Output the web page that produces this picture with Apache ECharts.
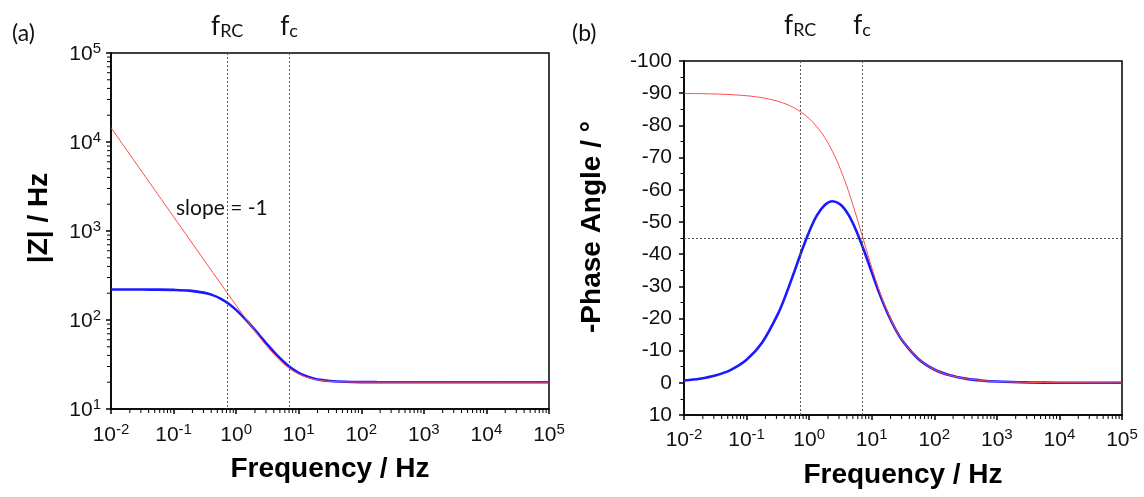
<!DOCTYPE html>
<html>
<head>
<meta charset="utf-8">
<script src="https://cdn.jsdelivr.net/npm/echarts@6/dist/echarts.min.js"></script>
<style>
  html, body { margin: 0; padding: 0; background: #fff; }
  #chart { width: 1144px; height: 497px; }
</style>
</head>
<body>
<div id="chart"></div>
<script>
// Frequency sweep (Hz), denser around the RC transition
const freq = [0.01, 0.0178, 0.0316, 0.0562, 0.1, 0.178, 0.316, 0.422, 0.562, 0.75,
  1, 1.33, 1.78, 2.37, 3.16, 4.22, 5.62, 7.5, 10, 13.3, 17.8, 23.7, 31.6, 56.2,
  100, 178, 316, 562, 1000, 3160, 10000, 31600, 100000];

// |Z| of the R-(R||C) circuit (blue) and of the series R-C circuit (red)
const magRRC = [220.0, 219.9, 219.8, 219.3, 217.9, 213.7, 201.8, 190.3, 174.1, 153.4,
  130.0, 106.4, 85.0, 67.0, 52.8, 42.1, 34.4, 29.0, 25.5, 23.3, 21.9, 21.1, 20.6, 20.2,
  20.06, 20.02, 20.01, 20.0, 20.0, 20.0, 20.0, 20.0, 20.0];
const magRC = [14472, 8136, 4576, 2574, 1447, 814, 458, 343.5, 258.1, 194.0,
  146.1, 110.3, 83.8, 64.2, 49.9, 39.7, 32.6, 27.8, 24.7, 22.75, 21.6, 20.9, 20.5, 20.16,
  20.05, 20.02, 20.01, 20.0, 20.0, 20.0, 20.0, 20.0, 20.0];

// Phase angle (degrees, on the "-Phase Angle" scale)
const phaseRRC = [-0.72, -1.28, -2.28, -4.04, -7.15, -12.53, -21.33, -27.22, -33.81, -40.65,
  -46.95, -52.01, -55.26, -56.44, -55.44, -52.34, -47.43, -41.19, -34.38, -27.72, -21.78,
  -16.80, -12.82, -7.32, -4.14, -2.33, -1.31, -0.74, -0.41, -0.13, -0.04, -0.01, 0.0];
const phaseRC = [-89.92, -89.86, -89.75, -89.55, -89.21, -88.59, -87.50, -86.66, -85.56, -84.08,
  -82.13, -79.55, -76.19, -71.85, -66.39, -59.75, -52.15, -43.97, -35.88, -28.47, -22.14,
  -16.96, -12.89, -7.33, -4.14, -2.33, -1.31, -0.74, -0.41, -0.13, -0.04, -0.01, 0.0];

// Characteristic frequencies and reference phase
const fRC = 0.72;
const fC = 7.0;
const phaseRef = -45;

// Axis ranges
const freqMin = 0.01, freqMax = 100000;
const magMin = 10, magMax = 100000;
const phaseMin = -100, phaseMax = 10, phaseStep = 10;

const SANS = '"Liberation Sans", Arial, sans-serif';
const HUM = 'Lato, "Open Sans", sans-serif';
const INK = '#111';

const pairs = (xs, ys) => xs.map((x, i) => [x, ys[i]]);

function decadeLabel(v) {
  return '{b|10}{s|' + Math.round(Math.log10(v)) + '}';
}
const supRich = {
  b: { fontFamily: SANS, fontSize: 21, color: INK, lineHeight: 24, verticalAlign: 'bottom' },
  s: { fontFamily: SANS, fontSize: 15, color: INK, lineHeight: 15, verticalAlign: 'top' }
};
const subRich = {
  f: { fontFamily: HUM, fontSize: 26, color: INK, lineHeight: 26, verticalAlign: 'top' },
  s: { fontFamily: HUM, fontSize: 18, color: INK, lineHeight: 18, verticalAlign: 'bottom' }
};

// 2..9 x 10^k positions for log-axis minor ticks
function logMinor(lo, hi) {
  const out = [];
  for (let e = lo; e < hi; e++) {
    for (let m = 2; m <= 9; m++) out.push(m * Math.pow(10, e));
  }
  return out;
}

const guideStyle = { color: '#555', type: [2, 2], width: 1 };

function freqAxis(idx, margin) {
  return {
    type: 'log', logBase: 10, gridIndex: idx, min: freqMin, max: freqMax, splitNumber: 7,
    name: 'Frequency / Hz', nameLocation: 'middle', nameGap: 46,
    nameTextStyle: { fontFamily: SANS, fontSize: 28, fontWeight: 'bold', color: '#000' },
    axisLine: { onZero: false, lineStyle: { color: '#000', width: 1.5 } },
    axisTick: { inside: false, length: 5, lineStyle: { color: '#000', width: 1.5 } },
    minorTick: { show: false },
    splitLine: { show: false },
    axisLabel: { formatter: decadeLabel, rich: supRich, margin: margin }
  };
}

// Panel letters and the slope annotation
function textGraphics() {
  return [
    { type: 'text', left: 12, top: 22, style: { text: '(a)', font: '23px ' + HUM, fill: INK } },
    { type: 'text', left: 572, top: 22, style: { text: '(b)', font: '23px ' + HUM, fill: INK } },
    { type: 'text', left: 176, top: 198, style: { text: 'slope = -1', font: '21px ' + HUM, fill: INK } }
  ];
}

const chart = echarts.init(document.getElementById('chart'), null, { renderer: 'canvas' });

const option = {
  animation: false,
  backgroundColor: '#fff',
  grid: [
    { left: 111, right: 595, top: 53, bottom: 88, show: true, borderColor: '#000', borderWidth: 1.5 },
    { left: 684, right: 22, top: 61, bottom: 82, show: true, borderColor: '#000', borderWidth: 1.5 }
  ],
  xAxis: [freqAxis(0, 13), freqAxis(1, 12)],
  yAxis: [
    {
      type: 'log', logBase: 10, gridIndex: 0, min: magMin, max: magMax, splitNumber: 4,
      name: '|Z| / Hz', nameLocation: 'middle', nameGap: 58,
      nameTextStyle: { fontFamily: SANS, fontSize: 28, fontWeight: 'bold', color: '#000', padding: [0, 0, 0, 26] },
      axisLine: { onZero: false, lineStyle: { color: '#000', width: 1.5 } },
      axisTick: { inside: false, length: 5, lineStyle: { color: '#000', width: 1.5 } },
      splitLine: { show: false },
      axisLabel: { formatter: decadeLabel, rich: supRich, margin: 10 }
    },
    {
      type: 'value', gridIndex: 1, min: phaseMin, max: phaseMax, interval: phaseStep, inverse: true,
      name: '-Phase Angle / °', nameLocation: 'middle', nameGap: 78,
      nameTextStyle: { fontFamily: SANS, fontSize: 28, fontWeight: 'bold', color: '#000', padding: [0, 0, 0, 22] },
      axisLine: { onZero: false, lineStyle: { color: '#000', width: 1.5 } },
      axisTick: { inside: false, length: 5, lineStyle: { color: '#000', width: 1.5 } },
      minorTick: { show: true, splitNumber: 2, length: 3.5, lineStyle: { color: '#000', width: 1 } },
      splitLine: { show: false },
      axisLabel: { fontFamily: SANS, fontSize: 21, color: INK, margin: 12 }
    }
  ],
  graphic: textGraphics(),
  series: [
    {
      type: 'line', name: '|Z| R-(R||C)', xAxisIndex: 0, yAxisIndex: 0,
      data: pairs(freq, magRRC), showSymbol: false, smooth: 0.3,
      lineStyle: { color: '#1a1aff', width: 2.6 }, z: 3,
      markLine: {
        silent: true, symbol: 'none', lineStyle: guideStyle,
        label: { show: true, position: 'start', padding: [0, 0, 8, 0], rich: subRich },
        data: [
          [{ coord: [fRC, magMax], label: { formatter: '{f|f}{s|RC}' } }, { coord: [fRC, magMin] }],
          [{ coord: [fC, magMax], label: { formatter: '{f|f}{s|c}' } }, { coord: [fC, magMin] }]
        ]
      }
    },
    {
      type: 'line', name: '|Z| R-C', xAxisIndex: 0, yAxisIndex: 0,
      data: pairs(freq, magRC), showSymbol: false, smooth: 0.3,
      lineStyle: { color: '#ff4d4d', width: 1 }, z: 4
    },
    {
      type: 'line', name: 'phase R-(R||C)', xAxisIndex: 1, yAxisIndex: 1,
      data: pairs(freq, phaseRRC), showSymbol: false, smooth: 0.3,
      lineStyle: { color: '#1a1aff', width: 2.6 }, z: 3,
      markLine: {
        silent: true, symbol: 'none', lineStyle: guideStyle,
        label: { show: true, position: 'start', padding: [0, 0, 17, 0], rich: subRich },
        data: [
          [{ coord: [fRC, phaseMin], label: { formatter: '{f|f}{s|RC}' } }, { coord: [fRC, phaseMax] }],
          [{ coord: [fC, phaseMin], label: { formatter: '{f|f}{s|c}' } }, { coord: [fC, phaseMax] }],
          [{ coord: [freqMin, phaseRef], label: { show: false } }, { coord: [freqMax, phaseRef] }]
        ]
      }
    },
    {
      type: 'line', name: 'phase R-C', xAxisIndex: 1, yAxisIndex: 1,
      data: pairs(freq, phaseRC), showSymbol: false, smooth: 0.3,
      lineStyle: { color: '#ff4d4d', width: 1 }, z: 4
    }
  ]
};

chart.setOption(option);

// Log-axis minor ticks (2..9 per decade), placed through the axes' own scales
const minorTicks = [];
const tick = (p, dx, dy) => ({
  type: 'line', silent: true, z: 10,
  shape: { x1: p[0], y1: p[1], x2: p[0] + dx, y2: p[1] + dy },
  style: { stroke: '#000', lineWidth: 1 }
});
logMinor(-2, 5).forEach(v => {
  minorTicks.push(tick(chart.convertToPixel({ gridIndex: 0 }, [v, magMin]), 0, 4));
  minorTicks.push(tick(chart.convertToPixel({ gridIndex: 1 }, [v, phaseMax]), 0, 4));
});
logMinor(1, 5).forEach(v => {
  minorTicks.push(tick(chart.convertToPixel({ gridIndex: 0 }, [freqMin, v]), -4, 0));
});
chart.setOption({ graphic: textGraphics().concat(minorTicks) });
</script>
</body>
</html>
